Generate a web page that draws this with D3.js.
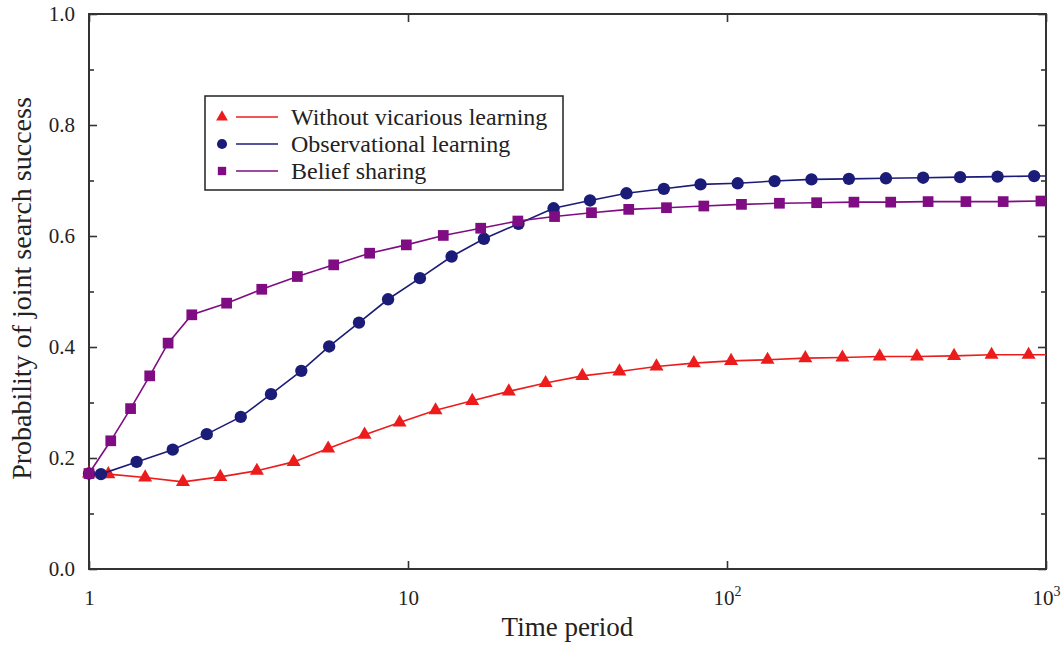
<!DOCTYPE html>
<html>
<head>
<meta charset="utf-8">
<script src="https://cdn.jsdelivr.net/npm/d3@7"></script>
<style>
  body { margin: 0; background: #fff; }
  text { font-family: "Liberation Serif", "Times New Roman", serif; fill: #222; }
</style>
</head>
<body>
<div class="chart"></div>
<script>
// time periods and success probabilities
var tWithout = [1, 1.15, 1.5, 1.97, 2.58, 3.36, 4.38, 5.62, 7.31, 9.41, 12.2, 15.9, 20.7, 27.0, 35.2, 46.0, 60.1, 78.7, 103, 134, 176, 230, 301, 394, 515, 675, 882, 1000];
var pWithout = [0.172, 0.171, 0.165, 0.157, 0.166, 0.177, 0.193, 0.217, 0.242, 0.264, 0.286, 0.303, 0.320, 0.335, 0.348, 0.356, 0.365, 0.371, 0.375, 0.377, 0.380, 0.381, 0.383, 0.383, 0.384, 0.386, 0.386, 0.386];

var tObserve = [1, 1.09, 1.41, 1.83, 2.34, 2.99, 3.72, 4.63, 5.66, 7.02, 8.66, 10.9, 13.7, 17.3, 22.2, 28.6, 37.2, 48.4, 63.4, 82.6, 108, 141, 184, 241, 315, 412, 538, 705, 918, 1000];
var pObserve = [0.172, 0.171, 0.193, 0.215, 0.243, 0.274, 0.315, 0.357, 0.401, 0.444, 0.486, 0.524, 0.563, 0.595, 0.622, 0.650, 0.664, 0.677, 0.685, 0.693, 0.695, 0.699, 0.702, 0.703, 0.704, 0.705, 0.706, 0.707, 0.708, 0.708];

var tBelief = [1, 1.17, 1.35, 1.55, 1.77, 2.10, 2.70, 3.48, 4.50, 5.85, 7.58, 9.88, 12.9, 16.9, 22.1, 28.8, 37.6, 49.2, 64.6, 84.6, 111, 146, 191, 250, 326, 427, 561, 734, 964, 1000];
var pBelief = [0.172, 0.231, 0.289, 0.348, 0.407, 0.458, 0.479, 0.504, 0.527, 0.548, 0.569, 0.584, 0.601, 0.614, 0.627, 0.635, 0.642, 0.648, 0.651, 0.654, 0.657, 0.659, 0.660, 0.661, 0.661, 0.662, 0.662, 0.662, 0.663, 0.663];

var seriesNames = ['Without vicarious learning', 'Observational learning', 'Belief sharing'];
var xTicks = [1, 10, 100, 1000];
var xTickLabels = [['1', ''], ['10', ''], ['10', '2'], ['10', '3']];
var yMajor = [0, 0.2, 0.4, 0.6, 0.8, 1.0];
var yMinor = [0.1, 0.3, 0.5, 0.7, 0.9];

var margin = { top: 14, right: 18, bottom: 78, left: 89 };
var width = 1064 - margin.left - margin.right;
var height = 647 - margin.top - margin.bottom;

var svg = d3.select('.chart').append('svg')
    .attr('width', 1064)
    .attr('height', 647)
  .append('g')
    .attr('transform', 'translate(' + margin.left + ',' + margin.top + ')');

var xScale = d3.scaleLog().domain([1, 1000]).range([0, width]);
var yScale = d3.scaleLinear().domain([0, 1]).range([height, 0]);

function cleanAxis(g) {
  g.select('.domain').remove();
  g.selectAll('line').attr('stroke', '#333').attr('stroke-width', 1.6);
}

// left axis with labels
svg.append('g')
    .call(d3.axisLeft(yScale).tickValues(yMajor).tickSize(-8).tickPadding(14)
      .tickFormat(d3.format('.1f')))
    .call(cleanAxis)
    .selectAll('text')
      .style('font-size', '21px')
      .attr('fill', '#222');

svg.append('g')
    .call(d3.axisLeft(yScale).tickValues(yMinor).tickSize(-5).tickFormat(''))
    .call(cleanAxis);

svg.append('g')
    .attr('transform', 'translate(' + width + ',0)')
    .call(d3.axisRight(yScale).tickValues(yMajor).tickSize(-8).tickFormat(''))
    .call(cleanAxis);

svg.append('g')
    .attr('transform', 'translate(' + width + ',0)')
    .call(d3.axisRight(yScale).tickValues(yMinor).tickSize(-5).tickFormat(''))
    .call(cleanAxis);

// bottom axis, labels with superscripts
var xAxis = svg.append('g')
    .attr('transform', 'translate(0,' + height + ')')
    .call(d3.axisBottom(xScale).tickValues(xTicks).tickSize(-8).tickPadding(21).tickFormat(''))
    .call(cleanAxis);

xAxis.selectAll('.tick text').each(function(d, i) {
  var t = d3.select(this).style('font-size', '21px').attr('fill', '#222');
  t.append('tspan').text(xTickLabels[i][0]);
  if (xTickLabels[i][1]) {
    t.append('tspan').attr('dy', '-9').style('font-size', '14px').text(xTickLabels[i][1]);
  }
});

svg.append('g')
    .call(d3.axisTop(xScale).tickValues(xTicks).tickSize(-8).tickFormat(''))
    .call(cleanAxis);

// frame
svg.append('rect')
    .attr('width', width)
    .attr('height', height)
    .attr('fill', 'none')
    .attr('stroke', '#333')
    .attr('stroke-width', 2);

// axis titles
svg.append('text')
    .attr('x', width / 2)
    .attr('y', height + 67)
    .attr('text-anchor', 'middle')
    .style('font-size', '27px')
    .text('Time period');

svg.append('text')
    .attr('transform', 'translate(' + (31 - margin.left) + ',' + (yScale(0.5) - 3) + ') rotate(-90)')
    .attr('text-anchor', 'middle')
    .style('font-size', '28px')
    .text('Probability of joint search success');

var series = [
  { name: seriesNames[0], t: tWithout, p: pWithout, color: '#ec1c1c', symbol: d3.symbolTriangle, size: 85, legendSize: 60 },
  { name: seriesNames[1], t: tObserve, p: pObserve, color: '#1b1c78', symbol: d3.symbolCircle, size: 120, legendSize: 80 },
  { name: seriesNames[2], t: tBelief, p: pBelief, color: '#7f0c82', symbol: d3.symbolSquare, size: 115, legendSize: 70 }
];

var line = d3.line()
    .x(function(d) { return xScale(d[0]); })
    .y(function(d) { return yScale(d[1]); });

series.forEach(function(s) {
  var pts = s.t.map(function(t, i) { return [t, s.p[i]]; });
  svg.append('path')
      .datum(pts)
      .attr('fill', 'none')
      .attr('stroke', s.color)
      .attr('stroke-width', 1.6)
      .attr('d', line);

  // the last point is the curve's end at 10^3, not a marker
  svg.append('g').selectAll('path')
      .data(pts.slice(0, -1))
    .enter().append('path')
      .attr('transform', function(d) { return 'translate(' + xScale(d[0]) + ',' + yScale(d[1]) + ')'; })
      .attr('d', d3.symbol().type(s.symbol).size(s.size))
      .attr('fill', s.color);
});

// legend
var legend = svg.append('g')
    .attr('transform', 'translate(' + (205 - margin.left) + ',' + (96 - margin.top) + ')');

legend.append('rect')
    .attr('width', 358)
    .attr('height', 94)
    .attr('fill', '#fff')
    .attr('stroke', '#222')
    .attr('stroke-width', 1.5);

series.forEach(function(s, i) {
  var y = 21 + i * 27;
  legend.append('path')
      .attr('transform', 'translate(17,' + y + ')')
      .attr('d', d3.symbol().type(s.symbol).size(s.legendSize))
      .attr('fill', s.color);
  legend.append('line')
      .attr('x1', 31).attr('x2', 73)
      .attr('y1', y).attr('y2', y)
      .attr('stroke', s.color)
      .attr('stroke-width', 1.6);
  legend.append('text')
      .attr('x', 86)
      .attr('y', y + 8)
      .style('font-size', '24px')
      .text(s.name);
});
</script>
</body>
</html>
